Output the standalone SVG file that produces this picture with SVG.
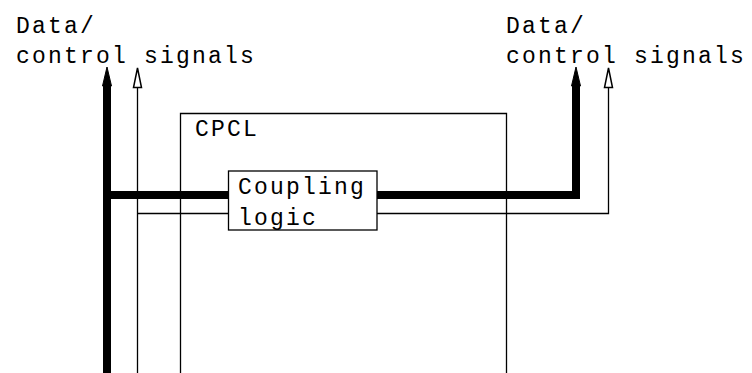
<svg xmlns="http://www.w3.org/2000/svg" width="752" height="373" viewBox="0 0 752 373">
<style>
text{font-family:"Liberation Mono","DejaVu Sans Mono",monospace;font-size:23px;letter-spacing:2.2px;fill:#000}
.box{fill:#fff;stroke:#000;stroke-width:1.3}
.thick{fill:none;stroke:#000;stroke-width:8}
.thin{fill:none;stroke:#000;stroke-width:1.3}
.ahf{fill:#000;stroke:#000;stroke-width:1}
.aho{fill:#fff;stroke:#000;stroke-width:1.5}
</style>
<rect width="752" height="373" fill="#fff"/>
<g id="labels">
<text x="16" y="33">Data/</text>
<text x="16" y="63">control signals</text>
<text x="506" y="33">Data/</text>
<text x="506" y="63">control signals</text>
</g>
<g id="cpcl">
<path class="thin" d="M180.5 373 V113.5 H506.5 V373"/>
<text x="195" y="136">CPCL</text>
</g>
<g id="connectors">
<path class="thick" d="M107 84 V373"/>
<path class="thin" d="M137.5 88 V373"/>
<path class="thick" d="M107 195 H230"/>
<path class="thin" d="M137.5 213.5 H230"/>
<path class="thick" d="M376 195 H576 V84"/>
<path class="thin" d="M376 213.5 H608.5 V88"/>
<polygon class="ahf" points="107,67 111.5,86 102.5,86"/>
<polygon class="aho" points="137.5,68 141.5,87.5 133.5,87.5"/>
<polygon class="ahf" points="576,67 580.5,86 571.5,86"/>
<polygon class="aho" points="608.5,68 612.5,87.5 604.5,87.5"/>
</g>
<g id="coupling">
<rect class="box" x="228.5" y="171" width="148.5" height="59"/>
<text x="238" y="194">Coupling</text>
<text x="238" y="225">logic</text>
</g>
</svg>
